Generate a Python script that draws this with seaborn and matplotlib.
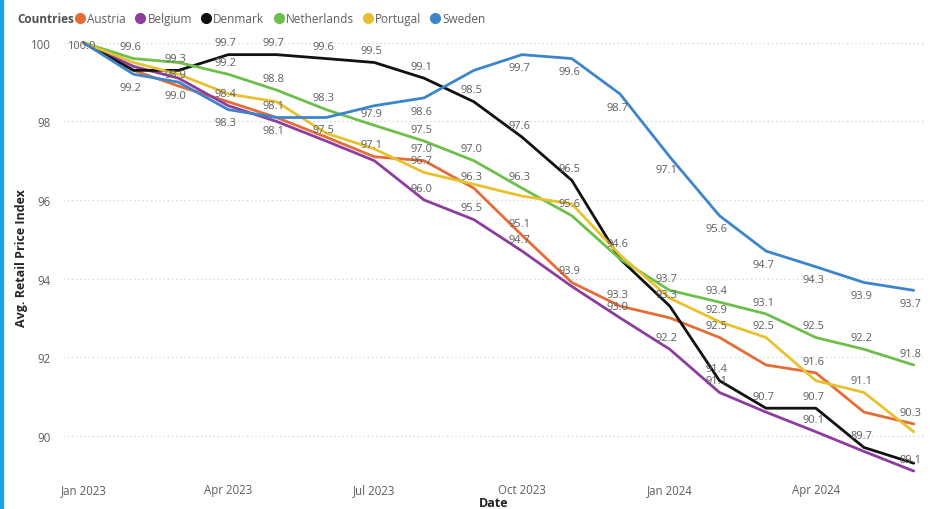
import pandas as pd
import seaborn as sns
import matplotlib.pyplot as plt
import matplotlib.dates as mdates
from matplotlib.lines import Line2D
from matplotlib.patches import Rectangle

# monthly values, Jan 2023 .. Jun 2024
months = pd.date_range("2023-01-01", "2024-06-01", freq="MS")
countries = ["Austria", "Belgium", "Denmark", "Netherlands", "Portugal", "Sweden"]

austria = [100.0, 99.3, 98.9, 98.5, 98.1, 97.6, 97.1, 97.0, 96.3, 95.1, 93.9, 93.3,
           93.0, 92.5, 91.8, 91.6, 90.6, 90.3]
belgium = [100.0, 99.4, 99.1, 98.4, 98.0, 97.5, 97.0, 96.0, 95.5, 94.7, 93.8, 93.0,
           92.2, 91.1, 90.6, 90.1, 89.6, 89.1]
denmark = [100.0, 99.3, 99.3, 99.7, 99.7, 99.6, 99.5, 99.1, 98.5, 97.6, 96.5, 94.5,
           93.3, 91.4, 90.7, 90.7, 89.7, 89.3]
netherlands = [100.0, 99.6, 99.5, 99.2, 98.8, 98.3, 97.9, 97.5, 97.0, 96.3, 95.6, 94.5,
               93.7, 93.4, 93.1, 92.5, 92.2, 91.8]
portugal = [100.0, 99.5, 99.2, 98.7, 98.5, 97.7, 97.3, 96.7, 96.4, 96.1, 95.9, 94.6,
            93.5, 92.9, 92.5, 91.4, 91.1, 90.1]
sweden = [100.0, 99.2, 99.0, 98.3, 98.1, 98.1, 98.4, 98.6, 99.3, 99.7, 99.6, 98.7,
          97.1, 95.6, 94.7, 94.3, 93.9, 93.7]

values = dict(zip(countries, [austria, belgium, denmark, netherlands, portugal, sweden]))

colors = {"Austria": "#E66C37", "Belgium": "#8D3CA0", "Denmark": "#111111",
          "Netherlands": "#6DBE4B", "Portugal": "#E8C12F", "Sweden": "#3D85CB"}

# which points get a data label: month index -> a(bove) / b(elow) / c(entre)
shown = {
    "Austria": {2: "a", 4: "a", 6: "a", 7: "a", 8: "a", 9: "a", 10: "a", 11: "a",
                13: "a", 15: "a", 17: "a"},
    "Belgium": {3: "a", 5: "a", 7: "a", 8: "a", 9: "a", 11: "a", 12: "a", 13: "a",
                15: "a", 17: "a"},
    "Denmark": {0: "c", 2: "a", 3: "a", 4: "a", 5: "a", 6: "a", 7: "a", 8: "a", 9: "a",
                10: "a", 12: "a", 13: "a", 14: "a", 15: "a", 16: "a"},
    "Netherlands": {1: "a", 3: "a", 4: "a", 5: "a", 6: "a", 7: "a", 8: "a", 9: "a",
                    10: "a", 12: "a", 13: "a", 14: "a", 15: "a", 16: "a", 17: "a"},
    "Portugal": {7: "a", 11: "a", 13: "a", 14: "a", 16: "a"},
    "Sweden": {1: "b", 2: "b", 3: "b", 4: "b", 7: "b", 9: "b", 10: "b", 11: "b",
               12: "b", 13: "b", 14: "b", 15: "b", 16: "b", 17: "b"},
}

df = pd.DataFrame({
    "Date": list(months) * len(countries),
    "Country": [c for c in countries for _ in months],
    "Index": [v for c in countries for v in values[c]],
})

sns.set_theme(style="white")
plt.rcParams["font.family"] = ["Open Sans", "DejaVu Sans"]

fig = plt.figure(figsize=(9.4, 5.1), dpi=100)
ax = fig.add_axes([0.067, 0.0667, 0.917, 0.855])

sns.lineplot(data=df, x="Date", y="Index", hue="Country", hue_order=countries,
             palette=colors, linewidth=2.0, ax=ax, legend=False)

grey = "#605E5C"
offs = {"a": 8.5, "b": -9.5, "c": -2}
for c in countries:
    for i, pos in shown[c].items():
        ax.annotate(f"{values[c][i]:.1f}", (months[i], values[c][i]),
                    xytext=(-2, offs[pos]), textcoords="offset points",
                    ha="center", va="center", fontsize=8, color=grey)

ax.set_ylim(89.0, 100.1)
ax.set_xlim(pd.Timestamp("2022-12-19"), pd.Timestamp("2024-06-08"))
ax.set_yticks([90, 92, 94, 96, 98, 100])
ax.xaxis.set_major_locator(mdates.MonthLocator(bymonth=[1, 4, 7, 10]))
ax.xaxis.set_major_formatter(mdates.DateFormatter("%b %Y"))
ax.grid(axis="y", color="#d9d9d9", linestyle=(0, (1, 2)), linewidth=1)
ax.grid(axis="x", visible=False)
for s in ax.spines.values():
    s.set_visible(False)
ax.tick_params(axis="y", length=0, pad=9, labelsize=8.3, labelcolor=grey)
ax.tick_params(axis="x", length=0, pad=6, labelsize=8.3, labelcolor=grey)

ax.set_xlabel("Date", fontsize=9, color="#252423", weight="bold")
ax.set_ylabel("Avg. Retail Price Index", fontsize=9, color="#252423", weight="bold")
ax.xaxis.set_label_coords(0.5, -0.062)
ax.xaxis.label.set_va("center")
ax.yaxis.set_label_coords(-0.048, 0.5)
ax.yaxis.label.set_va("center")

# legend row at top left
fig.text(0.018, 0.961, "Countries", fontsize=8.5, weight="bold", color="#505050",
         va="center", ha="left")
handles = [Line2D([], [], marker="o", linestyle="", markersize=7,
                  markerfacecolor=colors[c], markeredgecolor=colors[c]) for c in countries]
fig.legend(handles, countries, loc="center left", bbox_to_anchor=(0.078, 0.961),
           ncol=6, frameon=False, fontsize=8.5, handletextpad=0.0, columnspacing=0.6,
           handlelength=1.2, borderaxespad=0, borderpad=0, labelcolor=grey)

# blue strip on the left edge
fig.patches.append(Rectangle((0, 0), 0.0035, 1, transform=fig.transFigure,
                             color="#1FA2E0", zorder=5))

fig.savefig("out.png", dpi=100)
